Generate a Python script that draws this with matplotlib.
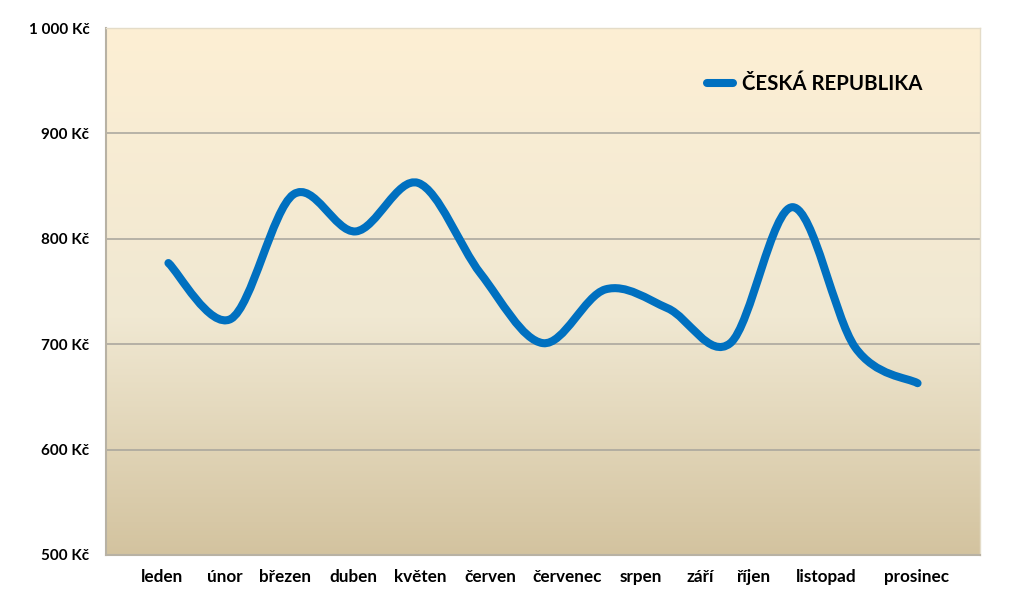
import numpy as np
import matplotlib
matplotlib.use("Agg")
import matplotlib.pyplot as plt
from matplotlib.path import Path
from matplotlib.patches import PathPatch
from matplotlib.lines import Line2D
from matplotlib.colors import LinearSegmentedColormap
from matplotlib.ticker import FuncFormatter

# Monthly values (13 points along the smoothed line)
POINT_IDX = list(range(13))
PRICES = [777, 724, 842, 807, 853, 767, 701, 752, 734, 701, 830, 697, 663]

MONTHS = ['leden', 'únor', 'březen', 'duben', 'květen', 'červen',
          'červenec', 'srpen', 'září', 'říjen', 'listopad', 'prosinec']
# month labels in the original sit at uneven spots under the line
MONTH_POS = [-0.1, 0.91, 1.87, 2.96, 4.03, 5.16, 6.38, 7.56, 8.51, 9.37, 10.53, 11.98]

SERIES_NAME = 'ČESKÁ REPUBLIKA'
Y_TICKS = [500, 600, 700, 800, 900, 1000]

LINE_COLOR = '#0070C0'
FONT = ['Lato', 'DejaVu Sans']

plt.rcParams['font.family'] = FONT
plt.rcParams['font.weight'] = 'bold'


def smooth_path(xs, ys):
    # Excel-like smoothed line: cubic Bezier segments through every point
    pts = np.column_stack([xs, ys]).astype(float)
    n = len(pts)
    verts = [pts[0]]
    codes = [Path.MOVETO]
    for i in range(n - 1):
        p0 = pts[max(i - 1, 0)]
        p1 = pts[i]
        p2 = pts[i + 1]
        p3 = pts[min(i + 2, n - 1)]
        c1 = p1 + (p2 - p0) / 6
        c2 = p2 - (p3 - p1) / 6
        verts += [c1, c2, p2]
        codes += [Path.CURVE4] * 3
    return Path(verts, codes)


fig = plt.figure(figsize=(10.24, 5.97), dpi=100)
ax = fig.add_axes([106 / 1024, 42 / 597, 874 / 1024, 527 / 597])

ax.set_xlim(-1, 13)
ax.set_ylim(500, 1000)

# background gradient of the plot area
grad = LinearSegmentedColormap.from_list(
    'bg', [(0.0, '#D3C39F'), (0.45, '#F0E8D2'), (1.0, '#FDEFD4')])
ax.imshow(np.linspace(0, 1, 256).reshape(-1, 1), cmap=grad, aspect='auto',
          extent=(-1, 13, 500, 1000), origin='lower', zorder=0)

for v in Y_TICKS[1:-1]:
    ax.axhline(v, color='#A6A39B', linewidth=1.1, zorder=1)

patch = PathPatch(smooth_path(POINT_IDX, PRICES), facecolor='none',
                  edgecolor=LINE_COLOR, linewidth=5.8, capstyle='round',
                  joinstyle='round', zorder=3)
ax.add_patch(patch)

ax.set_yticks(Y_TICKS)
ax.yaxis.set_major_formatter(
    FuncFormatter(lambda v, _: f"{v:,.0f}".replace(',', ' ') + ' Kč'))
ax.set_xticks(MONTH_POS, MONTHS)
ax.tick_params(axis='y', length=0, labelsize=11, pad=12)
ax.tick_params(axis='x', length=0, labelsize=12.3, pad=10)

for side in ['left', 'bottom']:
    ax.spines[side].set_color('#B8B2A4')
    ax.spines[side].set_linewidth(1.5)
for side in ['top', 'right']:
    ax.spines[side].set_color('#E4DCC8')
    ax.spines[side].set_linewidth(1)

handle = Line2D([], [], color=LINE_COLOR, linewidth=5.8, solid_capstyle='round')
ax.legend([handle], [SERIES_NAME], loc='center left', bbox_to_anchor=(0.688, 0.894),
          frameon=False, fontsize=14.7, handlelength=1.25, handletextpad=0.45,
          borderpad=0, borderaxespad=0)

fig.savefig('out.png', dpi=100, facecolor='white')
